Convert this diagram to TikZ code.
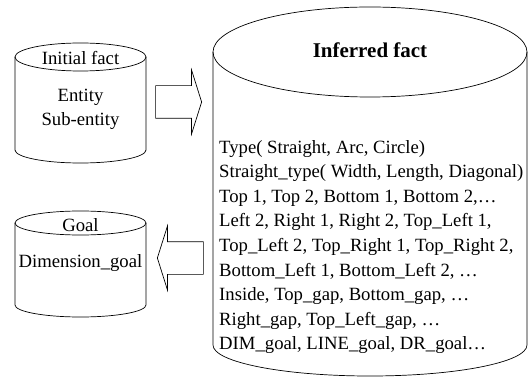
\documentclass[tikz,border=0pt]{standalone}
\usepackage{fontspec}
\setmainfont{Liberation Serif}
\usepackage{tikz}
\usetikzlibrary{positioning}
\usetikzlibrary{shapes.arrows}
\usetikzlibrary{calc}

\tikzset{
  body/.style={inner sep=0pt, outer sep=0pt},
  cylline/.style={draw=black, line width=0.7pt},
  blockarrow/.style={single arrow, draw=black, line width=0.7pt,
    inner xsep=0pt, inner ysep=16pt, minimum width=0pt, minimum height=46pt,
    single arrow head extend=15.5pt, single arrow tip angle=145},
  entry/.style={font=\fontsize{18.7}{24.6}\selectfont, inner sep=0pt}
}

\begin{document}
\begin{tikzpicture}[x=1pt, y=1pt]
	\useasboundingbox (0,0) rectangle (532,383);

	% cylinder bodies
	\begin{scope}[every node/.style={body}]
	    \node (init) [minimum width=131pt, minimum height=93pt] at (80.5,279.5) {};
	    \node (goal) [minimum width=131pt, minimum height=82pt] at (80.5,119) {};
	    \node (inf) [minimum width=314pt, minimum height=293pt] at (370,184.5) {};
	\end{scope}

	\begin{scope}[every path/.style={cylline}]
	    \draw (init.north) ellipse [x radius=65.5pt, y radius=14pt];
	    \draw (init.north west) -- (init.south west)
	        arc [start angle=180, end angle=360, x radius=65.5pt, y radius=13pt]
	        -- (init.north east);
	    \draw (goal.north) ellipse [x radius=65.5pt, y radius=12pt];
	    \draw (goal.north west) -- (goal.south west)
	        arc [start angle=180, end angle=360, x radius=65.5pt, y radius=12pt]
	        -- (goal.north east);
	    \draw (inf.north) ellipse [x radius=157pt, y radius=45pt];
	    \draw (inf.north west) -- (inf.south west)
	        arc [start angle=180, end angle=360, x radius=157pt, y radius=31pt]
	        -- (inf.north east);
	\end{scope}

	% texts
	\begin{scope}[every node/.style={entry}]
	    \node (inittitle) at (80.5,325) {Initial fact};
	    \node (inittext) [align=center] at (80.5,273.5) {Entity\\Sub-entity};
	    \node (goaltitle) at (80.5,158) {Goal};
	    \node (goaltext) at (80.5,120) {Dimension\_goal};
	    \node (inftitle) [font=\fontsize{21}{24}\selectfont\bfseries] at (370,333) {Inferred fact};
	    \node (inftext) [align=left, anchor=north west] at (219,243) {%
	        Type( Straight, Arc, Circle)\\
	        Straight\_type( Width, Length, Diagonal)\\
	        Top 1, Top 2, Bottom 1, Bottom 2,…\\
	        Left 2, Right 1, Right 2, Top\_Left 1,\\
	        Top\_Left 2, Top\_Right 1, Top\_Right 2,\\
	        Bottom\_Left 1, Bottom\_Left 2, …\\
	        Inside, Top\_gap, Bottom\_gap, …\\
	        Right\_gap, Top\_Left\_gap, …\\
	        DIM\_goal, LINE\_goal, DR\_goal…};
	\end{scope}

	% block arrows
	\node (toinf) [blockarrow, anchor=tip] at (202,281) {};
	\node (togoal) [blockarrow, shape border rotate=180, anchor=tip] at (157,125) {};
\end{tikzpicture}
\end{document}
